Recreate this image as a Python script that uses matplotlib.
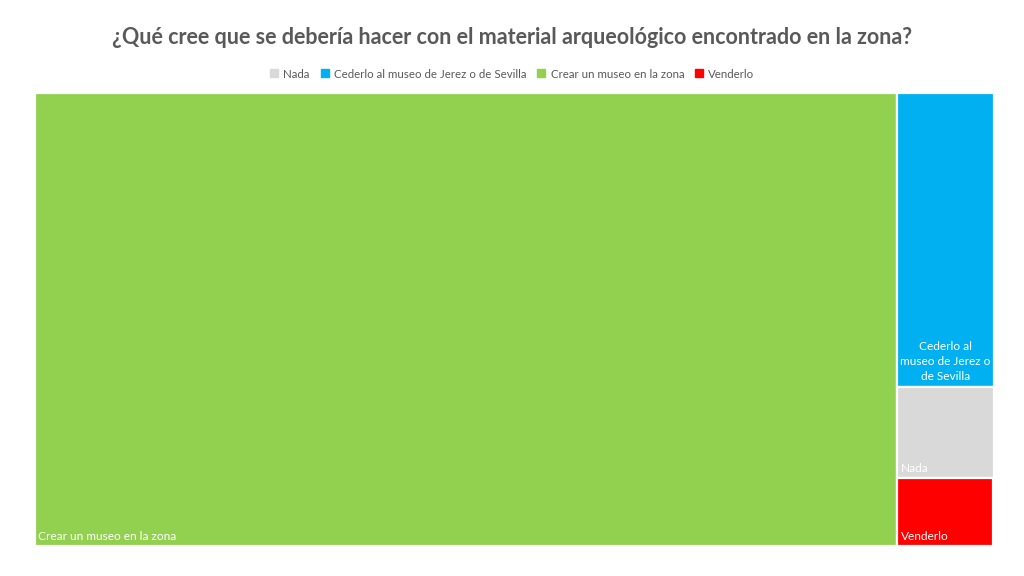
import matplotlib
matplotlib.use("Agg")
import matplotlib.pyplot as plt
from matplotlib.patches import Rectangle
from matplotlib.lines import Line2D

plt.rcParams['font.family'] = ['Lato', 'DejaVu Sans']

title = "¿Qué cree que se debería hacer con el material arqueológico encontrado en la zona?"
categories = ["Nada", "Cederlo al museo de Jerez o de Sevilla", "Crear un museo en la zona", "Venderlo"]
values = [4, 13, 179, 3]
colors = ["#D9D9D9", "#00B0F0", "#92D050", "#FF0000"]
box_labels = ["Nada", "Cederlo al\nmuseo de Jerez o\nde Sevilla", "Crear un museo en la zona", "Venderlo"]


def worst(row, w):
    s = sum(row)
    return max(max(w * w * r / (s * s), s * s / (w * w * r)) for r in row)


def squarify(vals, x, y, w, h):
    # vals: already normalized to area, sorted descending
    rects = []
    vals = list(vals)
    while vals:
        short = min(w, h)
        row = [vals[0]]
        i = 1
        while i < len(vals) and worst(row + [vals[i]], short) <= worst(row, short):
            row.append(vals[i])
            i += 1
        vals = vals[i:]
        s = sum(row)
        if w >= h:
            rw = s / h
            yy = y
            for r in row:
                rh = r / rw
                rects.append((x, yy, rw, rh))
                yy += rh
            x += rw
            w -= rw
        else:
            rh = s / w
            xx = x
            for r in row:
                rw = r / rh
                rects.append((xx, y, rw, rh))
                xx += rw
            y += rh
            h -= rh
    return rects


fig = plt.figure(figsize=(10.24, 5.76), dpi=100)
ax = fig.add_axes([0, 0, 1, 1])
ax.set_xlim(0, 1024)
ax.set_ylim(576, 0)
ax.axis('off')

X0, Y0, W, H = 34.5, 92.5, 959.0, 453.5
order = sorted(range(len(values)), key=lambda i: -values[i])
total = sum(values)
areas = [values[i] / total * W * H for i in order]
rects = squarify(areas, X0, Y0, W, H)

for idx, (rx, ry, rw, rh) in zip(order, rects):
    ax.add_patch(Rectangle((rx, ry), rw, rh, facecolor=colors[idx],
                           edgecolor='white', linewidth=1.6))
    if "\n" in box_labels[idx]:
        ax.text(rx + rw / 2, ry + rh - 5, box_labels[idx], color='white',
                fontsize=8.6, ha='center', va='bottom', linespacing=1.45)
    else:
        ax.text(rx + 4, ry + rh - 4, box_labels[idx], color='white',
                fontsize=8.6, ha='left', va='bottom')

fig.text(0.5, 1 - 38 / 576, title, ha='center', va='center', fontsize=15.5,
         fontweight='bold', color='#595959')

handles = [Line2D([], [], linestyle='none', marker='s', markersize=5.5,
                  markerfacecolor=c, markeredgecolor=c) for c in colors]
fig.legend(handles, categories, loc='center', bbox_to_anchor=(0.5, 1 - 74 / 576),
           ncol=4, frameon=False, fontsize=8.3, handlelength=0.8,
           handletextpad=0.4, columnspacing=0.9, labelcolor='#595959')

fig.savefig("out.png", dpi=100, facecolor='white')
